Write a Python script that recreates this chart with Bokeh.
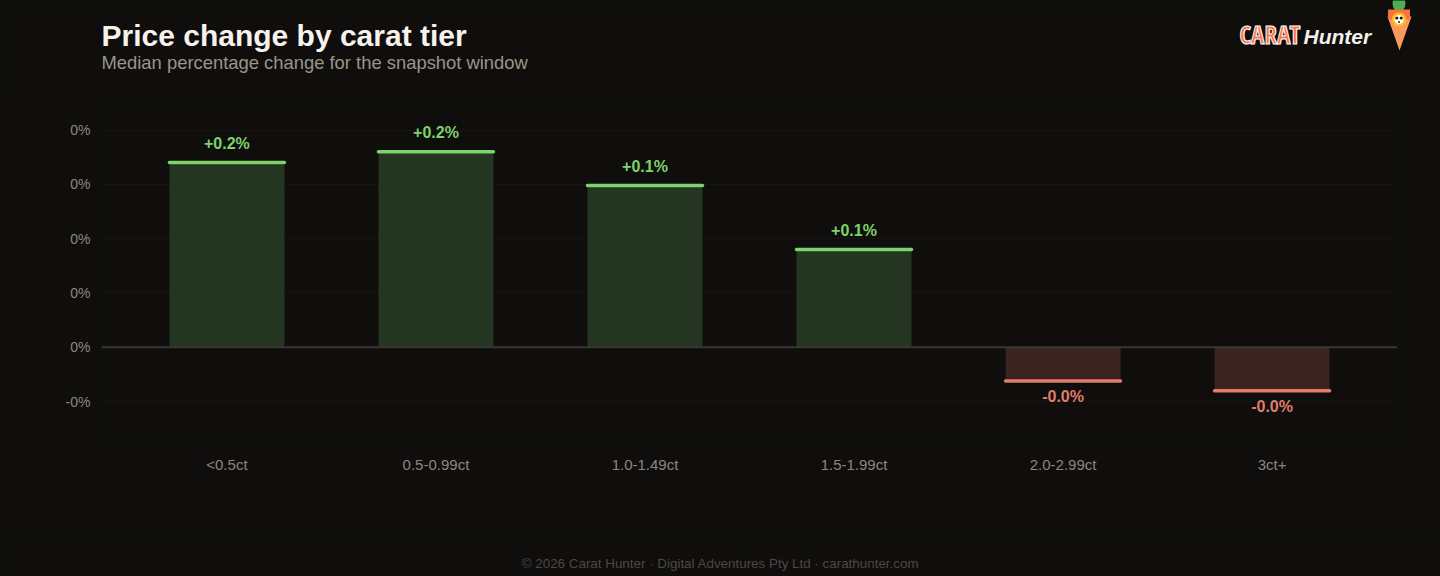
from bokeh.plotting import figure
from bokeh.models import (ColumnDataSource, Range1d, FactorRange, Span,
                          CustomJSTickFormatter, FixedTicker)
from bokeh.layouts import column
from bokeh.transform import dodge
from bokeh.core.properties import value
from bokeh.embed import file_html
from bokeh.resources import INLINE

# --- data -----------------------------------------------------------------
tiers = ["<0.5ct", "0.5-0.99ct", "1.0-1.49ct", "1.5-1.99ct", "2.0-2.99ct", "3ct+"]
median_change_pct = [0.17, 0.18, 0.149, 0.09, -0.031, -0.04]
y_ticks = [-0.05, 0.0, 0.05, 0.1, 0.15, 0.2]

title_text = "Price change by carat tier"
subtitle_text = "Median percentage change for the snapshot window"
footer_text = "\u00a9 2026 Carat Hunter \u00b7 Digital Adventures Pty Ltd \u00b7 carathunter.com"

# --- palette --------------------------------------------------------------
BG = "#0f0e0d"
UP_FILL, UP_LINE = "#243522", "#7dd36c"
DOWN_FILL, DOWN_LINE = "#3a2420", "#e27b6b"
FONT = "Liberation Sans"
W = 1440

# --- header: title, subtitle and logo ------------------------------------
header = figure(width=W, height=95, x_range=Range1d(0, W), y_range=Range1d(95, 0),
                toolbar_location=None, output_backend="svg", min_border=0,
                background_fill_color=BG, border_fill_color=BG, outline_line_color=None)
header.axis.visible = False
header.grid.visible = False
header.frame_align = False

header.text(x=[101], y=[35], text=[title_text], text_font=value(FONT),
            text_font_size="30px", text_font_style="bold", text_color="#f7f2ec",
            text_baseline="middle")
header.text(x=[101], y=[61.5], text=[subtitle_text], text_font=value(FONT),
            text_font_size="18.4px", text_color="#9b948c", text_baseline="middle")

# logo wordmark
header.text(x=[1239], y=[33], text=["CARAT"], text_font=value("Open Sans Condensed"),
            text_font_size="25px", text_font_style="bold", text_color="#ff6f45",
            text_outline_color="#ffffff", text_baseline="middle")
header.text(x=[1303], y=[35.5], text=["Hunter"], text_font=value(FONT),
            text_font_size="21px", text_font_style="bold italic", text_color="#f5f0ea",
            text_baseline="middle")
# carrot mascot
header.ellipse(x=[1398.5], y=[3], width=[13], height=[16], fill_color="#4caf50",
               line_color=None)
header.patch(x=[1387, 1411, 1399], y=[16, 16, 50], fill_color="#f79a5c", line_color=None)
header.rect(x=[1398.5], y=[14], width=[22], height=[10], fill_color="#f4733f", line_color=None)
header.circle(x=[1398.5], y=[19], radius=7, fill_color="#ffc21a", line_color=None)
header.circle(x=[1398.5], y=[19], radius=4.5, fill_color="#ffffff", line_color=None)
header.circle(x=[1396.3, 1400.7], y=[17.5, 17.5], radius=1.6, fill_color="#1a1a1a",
              line_color=None)
header.circle(x=[1398.5], y=[21.5], radius=1.0, fill_color="#1a1a1a", line_color=None)

# --- main bar chart -------------------------------------------------------
labels = [f"{v:+.1f}%" for v in median_change_pct]
src = ColumnDataSource(data=dict(
    tier=tiers,
    change=median_change_pct,
    label=labels,
    fill=[UP_FILL if v >= 0 else DOWN_FILL for v in median_change_pct],
    edge=[UP_LINE if v >= 0 else DOWN_LINE for v in median_change_pct],
    offset=[-19 if v >= 0 else 16 for v in median_change_pct],
))

p = figure(width=W, height=441,
           x_range=FactorRange(factors=tiers, range_padding=0.1,
                               range_padding_units="absolute"),
           y_range=Range1d(-0.0905, 0.2226),
           toolbar_location=None, output_backend="svg",
           min_border_left=101, min_border_right=43, min_border_top=10,
           min_border_bottom=91,
           background_fill_color=BG, border_fill_color=BG, outline_line_color=None)
p.frame_align = False

p.vbar(x="tier", top="change", bottom=0, width=0.55, source=src,
       fill_color="fill", line_color=None)
p.segment(x0=dodge("tier", -0.275, range=p.x_range), y0="change",
          x1=dodge("tier", 0.275, range=p.x_range), y1="change",
          source=src, line_color="edge", line_width=3.5, line_cap="round")
p.text(x="tier", y="change", text="label", source=src, y_offset="offset",
       text_align="center", text_baseline="middle", text_color="edge",
       text_font=value(FONT), text_font_size="16px", text_font_style="bold")

zero = Span(location=0, dimension="width", line_color="#3a3731", line_width=2)
p.add_layout(zero)

p.xgrid.grid_line_color = None
p.ygrid.grid_line_color = "#2b2926"
p.ygrid.grid_line_dash = "1 3"
p.ygrid.grid_line_width = 1

p.yaxis.ticker = FixedTicker(ticks=y_ticks)
p.yaxis.formatter = CustomJSTickFormatter(code="return tick.toFixed(0) + '%';")
for ax in (p.xaxis[0], p.yaxis[0]):
    ax.axis_line_color = None
    ax.major_tick_line_color = None
    ax.minor_tick_line_color = None
    ax.major_tick_out = 0
    ax.major_tick_in = 0
    ax.major_label_text_font = FONT
    ax.major_label_text_color = "#8d8680"
p.xaxis.major_label_text_font_size = "15px"
p.xaxis.major_label_standoff = 10
p.yaxis.major_label_text_font_size = "14px"
p.yaxis.major_label_standoff = 11

# --- footer ---------------------------------------------------------------
footer = figure(width=W, height=40, x_range=Range1d(0, W), y_range=Range1d(40, 0),
                toolbar_location=None, output_backend="svg", min_border=0,
                background_fill_color=BG, border_fill_color=BG, outline_line_color=None)
footer.axis.visible = False
footer.grid.visible = False
footer.frame_align = False
footer.text(x=[720], y=[27], text=[footer_text], text_font=value(FONT),
            text_font_size="13.4px", text_color="#4d4844", text_align="center",
            text_baseline="middle")

layout = column(header, p, footer, spacing=0)
html = file_html(layout, INLINE, title="Price change by carat tier")
html = html.replace("<head>", "<head><style>body{margin:0;background:%s}</style>" % BG, 1)
open("out.html", "w").write(html)
